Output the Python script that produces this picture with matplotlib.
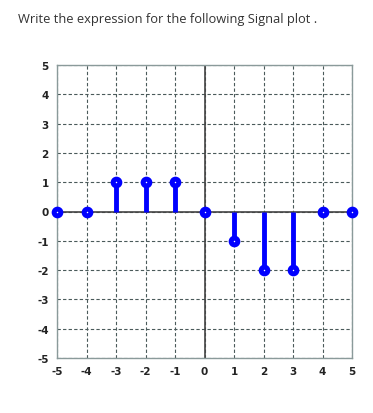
import matplotlib
matplotlib.use("Agg")
import matplotlib.pyplot as plt
import numpy as np

# signal samples
n = [-5, -4, -3, -2, -1, 0, 1, 2, 3, 4, 5]
x_n = [0, 0, 1, 1, 1, 0, -1, -2, -2, 0, 0]
ticks = [-5, -4, -3, -2, -1, 0, 1, 2, 3, 4, 5]

fig = plt.figure(figsize=(3.73, 4.14), dpi=100)
fig.text(18 / 373, 1 - 19 / 414, "Write the expression for the following Signal plot .",
         fontsize=9.3, family="Open Sans", color="#333333", va="center", ha="left")

ax = fig.add_axes([57 / 373, 55 / 414, 295 / 373, 293 / 414])
ax.set_xlim(-5, 5)
ax.set_ylim(-5, 5)
ax.set_xticks(ticks)
ax.set_yticks(ticks)
ax.set_xticklabels([str(t) for t in ticks], fontsize=7.5, fontweight="bold", color="#222222")
ax.set_yticklabels([str(t) for t in ticks], fontsize=7.5, fontweight="bold", color="#222222")
ax.tick_params(length=0, pad=6)
ax.grid(True, linestyle=(0, (3, 2)), color="#4a5a5a", linewidth=0.8)
for s in ax.spines.values():
    s.set_color("#8a9a9a")
    s.set_linewidth(1.0)

# zero axes
ax.axhline(0, color="#444444", linewidth=1.2, zorder=2)
ax.axvline(0, color="#444444", linewidth=1.2, zorder=2)

# stems
ax.vlines(n, 0, x_n, color="#0000ff", linewidth=3.5, zorder=3)
ax.plot(n, x_n, "o", markersize=4.8, markerfacecolor="white", markeredgecolor="#0000ff",
        markeredgewidth=3.6, linestyle="none", zorder=4, clip_on=False)

fig.savefig("out.png", dpi=100)
